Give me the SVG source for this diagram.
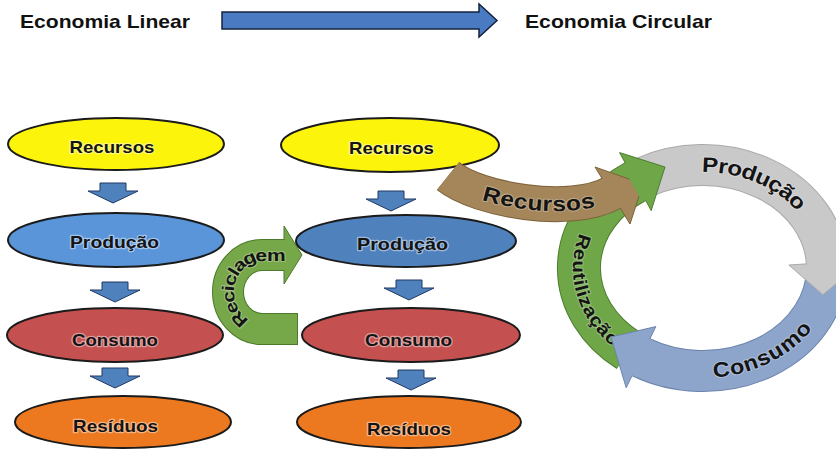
<svg xmlns="http://www.w3.org/2000/svg" xmlns:xlink="http://www.w3.org/1999/xlink" width="836" height="450" viewBox="0 0 836 450">
  <style>
    .title { font-family: "Liberation Sans", Arial, sans-serif; font-weight: bold; font-size: 19px; fill: #111; }
    .node ellipse { stroke: #1b1b1b; stroke-width: 2; }
    .lbl { font-family: "Liberation Sans", Arial, sans-serif; font-weight: bold; font-size: 17px; fill: #141414; text-anchor: middle;
           stroke: rgba(255,255,255,0.45); stroke-width: 2.5px; paint-order: stroke; stroke-linejoin: round; }
    .down { fill: #4F81BD; stroke: #1F3864; stroke-width: 1; }
    .band { fill: none; stroke-linecap: butt; }
    .arclbl { font-family: "Liberation Sans", Arial, sans-serif; font-weight: bold; fill: #141414;
              stroke: rgba(255,255,255,0.3); stroke-width: 2px; paint-order: stroke; stroke-linejoin: round; }
  </style>
  <defs>
    <!-- small block arrow pointing down, origin at top centre -->
    <path id="downArrow" d="M -13 0 H 13 V 8 H 25 L 0 20 L -25 8 H -13 Z"/>
    <!-- text guides -->
    <path id="pProd" d="M 660.6 171.2 A 124 103 0 0 1 823.3 243.1"/>
    <path id="pCons" d="M 681.5 369.4 A 124 103 0 0 0 822.2 296.4"/>
    <path id="pReut" d="M 601.4 208.9 A 124 103 0 0 0 642.9 358.1"/>
    <path id="pRec" d="M 448 176 C 478 200, 570 216, 612 193"/>
    <path id="pRecic" d="M 280 329 L 262 329 A 34 37 0 0 1 262 255 L 300 255"/>
  </defs>

  <rect width="836" height="450" fill="#ffffff"/>

  <!-- header -->
  <text class="title" x="20" y="28" textLength="170" lengthAdjust="spacingAndGlyphs">Economia Linear</text>
  <text class="title" x="525" y="28" textLength="187" lengthAdjust="spacingAndGlyphs">Economia Circular</text>

  <g id="connectors">
    <path id="header-arrow" d="M 222 12 H 479 V 4 L 497 20.5 L 479 37 V 29 H 222 Z" fill="#4A7BC2" stroke="#14243F" stroke-width="1.5"/>
    <use href="#downArrow" class="down" x="113" y="183"/>
    <use href="#downArrow" class="down" x="115" y="282"/>
    <use href="#downArrow" class="down" x="115" y="368"/>
    <use href="#downArrow" class="down" x="391" y="191"/>
    <use href="#downArrow" class="down" x="409" y="280"/>
    <use href="#downArrow" class="down" x="411" y="370"/>
  </g>

  <!-- linear column -->
  <g id="lin-recursos" class="node">
    <ellipse cx="116" cy="144" rx="108" ry="26" fill="#FCF40A"/>
    <text class="lbl" x="112" y="153" textLength="85" lengthAdjust="spacingAndGlyphs">Recursos</text>
  </g>
  <g id="lin-producao" class="node">
    <ellipse cx="116" cy="240" rx="108" ry="27" fill="#5A95DA"/>
    <text class="lbl" x="114.5" y="248" textLength="89" lengthAdjust="spacingAndGlyphs">Produção</text>
  </g>
  <g id="lin-consumo" class="node">
    <ellipse cx="115" cy="335" rx="108" ry="27" fill="#C4504F"/>
    <text class="lbl" x="115" y="346" textLength="86" lengthAdjust="spacingAndGlyphs">Consumo</text>
  </g>
  <g id="lin-residuos" class="node">
    <ellipse cx="123" cy="422" rx="108" ry="26" fill="#EC7820"/>
    <text class="lbl" x="115.5" y="432" textLength="85" lengthAdjust="spacingAndGlyphs">Resíduos</text>
  </g>

  <!-- recycling U-turn arrow -->
  <g id="reciclagem">
    <path class="band" d="M 298 329 L 262 329 A 34 37 0 0 1 262 255 L 284 255" stroke="#4A7A2A" stroke-width="32"/>
    <polygon points="284,226 302,255 284,284" fill="#76A748" stroke="#4A7A2A" stroke-width="1"/>
    <path class="band" d="M 297 329 L 262 329 A 34 37 0 0 1 262 255 L 287 255" stroke="#76A748" stroke-width="30"/>
    <text class="arclbl" font-size="17" dy="6"><textPath href="#pRecic" startOffset="36" textLength="117" lengthAdjust="spacingAndGlyphs">Reciclagem</textPath></text>
  </g>

  <!-- recycling column -->
  <g id="rec-recursos" class="node">
    <ellipse cx="390" cy="145" rx="109" ry="27" fill="#FCF40A"/>
    <text class="lbl" x="391.5" y="154" textLength="85" lengthAdjust="spacingAndGlyphs">Recursos</text>
  </g>
  <g id="rec-producao" class="node">
    <ellipse cx="406" cy="241" rx="110" ry="26" fill="#4F81BD"/>
    <text class="lbl" x="402.5" y="250" textLength="91" lengthAdjust="spacingAndGlyphs">Produção</text>
  </g>
  <g id="rec-consumo" class="node">
    <ellipse cx="411" cy="335" rx="109" ry="27" fill="#C4504F"/>
    <text class="lbl" x="408.5" y="346" textLength="87" lengthAdjust="spacingAndGlyphs">Consumo</text>
  </g>
  <g id="rec-residuos" class="node">
    <ellipse cx="409" cy="422" rx="112" ry="26" fill="#EC7820"/>
    <text class="lbl" x="409" y="435" textLength="84" lengthAdjust="spacingAndGlyphs">Resíduos</text>
  </g>

  <!-- circular economy ring: bands first, heads on top -->
  <g id="ring-bands">
    <path class="band" d="M 644.8 177.1 A 124 103 0 0 1 826.8 262.6" stroke="#A9A9A9" stroke-width="42"/>
    <path class="band" d="M 827 268 A 124 103 0 0 1 641 357.2" stroke="#6C84AE" stroke-width="42"/>
    <path class="band" d="M 628.4 350.3 A 124 103 0 0 1 635.4 181.6" stroke="#4C7E2E" stroke-width="44"/>
    <path class="band" d="M 644.8 177.1 A 124 103 0 0 1 826.8 262.6" stroke="#C9C9C9" stroke-width="40"/>
    <path class="band" d="M 827 268 A 124 103 0 0 1 641 357.2" stroke="#8EA5CB" stroke-width="40"/>
    <path class="band" d="M 628.4 350.3 A 124 103 0 0 1 635.4 181.6" stroke="#6FA648" stroke-width="42"/>
  </g>
  <g id="ring-labels">
    <text class="arclbl" font-size="21" dy="7"><textPath href="#pProd" startOffset="50%" text-anchor="middle" textLength="112" lengthAdjust="spacingAndGlyphs">Produção</textPath></text>
    <text class="arclbl" font-size="21" dy="7" fill="#0E1B36"><textPath href="#pCons" startOffset="50%" text-anchor="middle" textLength="108" lengthAdjust="spacingAndGlyphs">Consumo</textPath></text>
    <text class="arclbl" font-size="18" dy="6"><textPath href="#pReut" startOffset="50%" text-anchor="middle" textLength="120" lengthAdjust="spacingAndGlyphs">Reutilização</textPath></text>
  </g>

  <!-- incoming resources arrow -->
  <g id="recursos-in">
    <path class="band" d="M 448 176 C 478 200, 570 216, 612 193" stroke="#7B6139" stroke-width="36"/>
    <polygon points="595,167 643,184 630,224" fill="#A4865A" stroke="#7B6139" stroke-width="1"/>
    <path class="band" d="M 448 176 C 478 200, 570 216, 612 193 L 615 191.5" stroke="#A4865A" stroke-width="34"/>
    <text class="arclbl" font-size="21" dy="7" fill="#1a1208"><textPath href="#pRec" startOffset="56%" text-anchor="middle" textLength="112" lengthAdjust="spacingAndGlyphs">Recursos</textPath></text>
  </g>

  <g id="ring-heads">
    <polygon points="864.7,260.2 822.8,294.7 788.9,265.0" fill="#C9C9C9" stroke="#A9A9A9" stroke-width="1"/>
    <path class="band" d="M 826.5 259.0 A 124 103 0 0 1 827.0 265.3" stroke="#C9C9C9" stroke-width="40"/>
    <polygon points="655.8,326.6 611,337 626.2,387.8" fill="#8EA5CB" stroke="#6C84AE" stroke-width="1"/>
    <path class="band" d="M 644.8 358.9 A 124 103 0 0 1 638.2 355.8" stroke="#8EA5CB" stroke-width="40"/>
    <polygon points="619.6,152.6 665,167 651.2,210.6" fill="#6FA648" stroke="#4C7E2E" stroke-width="1"/>
    <path class="band" d="M 631.8 183.6 A 124 103 0 0 1 638.2 180.2" stroke="#6FA648" stroke-width="42"/>
  </g>
</svg>
